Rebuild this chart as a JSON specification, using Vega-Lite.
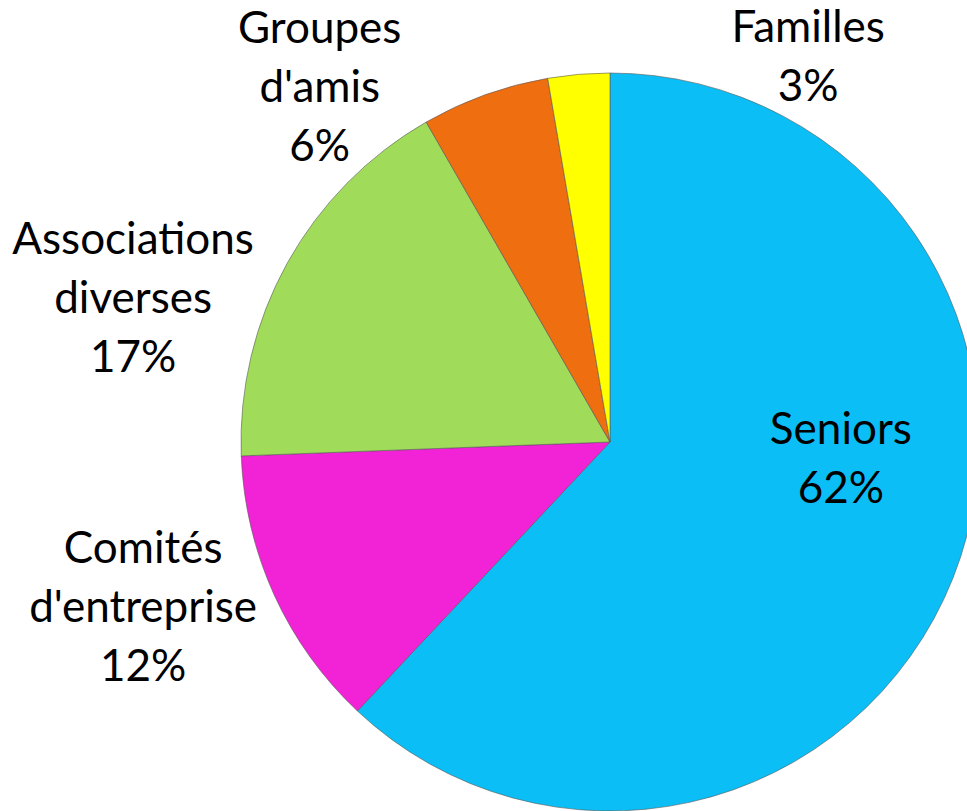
{
  "$schema": "https://vega.github.io/schema/vega-lite/v6.json",
  "autosize": {"type": "none"},
  "width": 738,
  "height": 738,
  "padding": {"left": 241, "top": 73, "right": 0, "bottom": 0},
  "background": "white",
  "view": {"stroke": null},
  "data": {
    "values": [
      {"order": 1, "category": "Seniors", "value": 62, "label": "Seniors\n62%"},
      {"order": 2, "category": "Comités d'entreprise", "value": 12.4, "label": "Comités\nd'entreprise\n12%"},
      {"order": 3, "category": "Associations diverses", "value": 17.3, "label": "Associations\ndiverses\n17%"},
      {"order": 4, "category": "Groupes d'amis", "value": 5.6, "label": "Groupes\nd'amis\n6%"},
      {"order": 5, "category": "Familles", "value": 2.7, "label": "Familles\n3%"}
    ]
  },
  "encoding": {
    "theta": {"field": "value", "type": "quantitative", "stack": true},
    "order": {"field": "order", "type": "quantitative", "sort": "ascending"}
  },
  "layer": [
    {
      "mark": {"type": "arc", "radius": 369, "stroke": "#5a5a5a", "strokeWidth": 1, "strokeOpacity": 0.6},
      "encoding": {
        "color": {
          "field": "category", "type": "nominal", "legend": null,
          "scale": {
            "domain": ["Seniors", "Comités d'entreprise", "Associations diverses", "Groupes d'amis", "Familles"],
            "range": ["#0BBEF6", "#F222D6", "#A0DC5A", "#EE6E10", "#FFFF00"]
          }
        }
      }
    },
    {
      "mark": {"type": "text", "radius": 230, "dx": 17, "dy": -96, "font": "Lato", "fontSize": 44, "lineHeight": 59, "lineBreak": "\n", "align": "center", "baseline": "middle", "color": "black"},
      "encoding": {"text": {"condition": {"test": "datum.order === 1", "field": "label"}, "value": ""}}
    },
    {
      "mark": {"type": "text", "radius": 480, "dx": -30, "dy": -91, "font": "Lato", "fontSize": 44, "lineHeight": 59, "lineBreak": "\n", "align": "center", "baseline": "middle", "color": "black"},
      "encoding": {"text": {"condition": {"test": "datum.order === 2", "field": "label"}, "value": ""}}
    },
    {
      "mark": {"type": "text", "radius": 480, "dx": -57, "dy": 32, "font": "Lato", "fontSize": 44, "lineHeight": 59, "lineBreak": "\n", "align": "center", "baseline": "middle", "color": "black"},
      "encoding": {"text": {"condition": {"test": "datum.order === 3", "field": "label"}, "value": ""}}
    },
    {
      "mark": {"type": "text", "radius": 420, "dx": -148, "dy": -17, "font": "Lato", "fontSize": 44, "lineHeight": 59, "lineBreak": "\n", "align": "center", "baseline": "middle", "color": "black"},
      "encoding": {"text": {"condition": {"test": "datum.order === 4", "field": "label"}, "value": ""}}
    },
    {
      "mark": {"type": "text", "radius": 400, "dx": 232, "dy": -14, "font": "Lato", "fontSize": 44, "lineHeight": 59, "lineBreak": "\n", "align": "center", "baseline": "middle", "color": "black"},
      "encoding": {"text": {"condition": {"test": "datum.order === 5", "field": "label"}, "value": ""}}
    }
  ]
}
